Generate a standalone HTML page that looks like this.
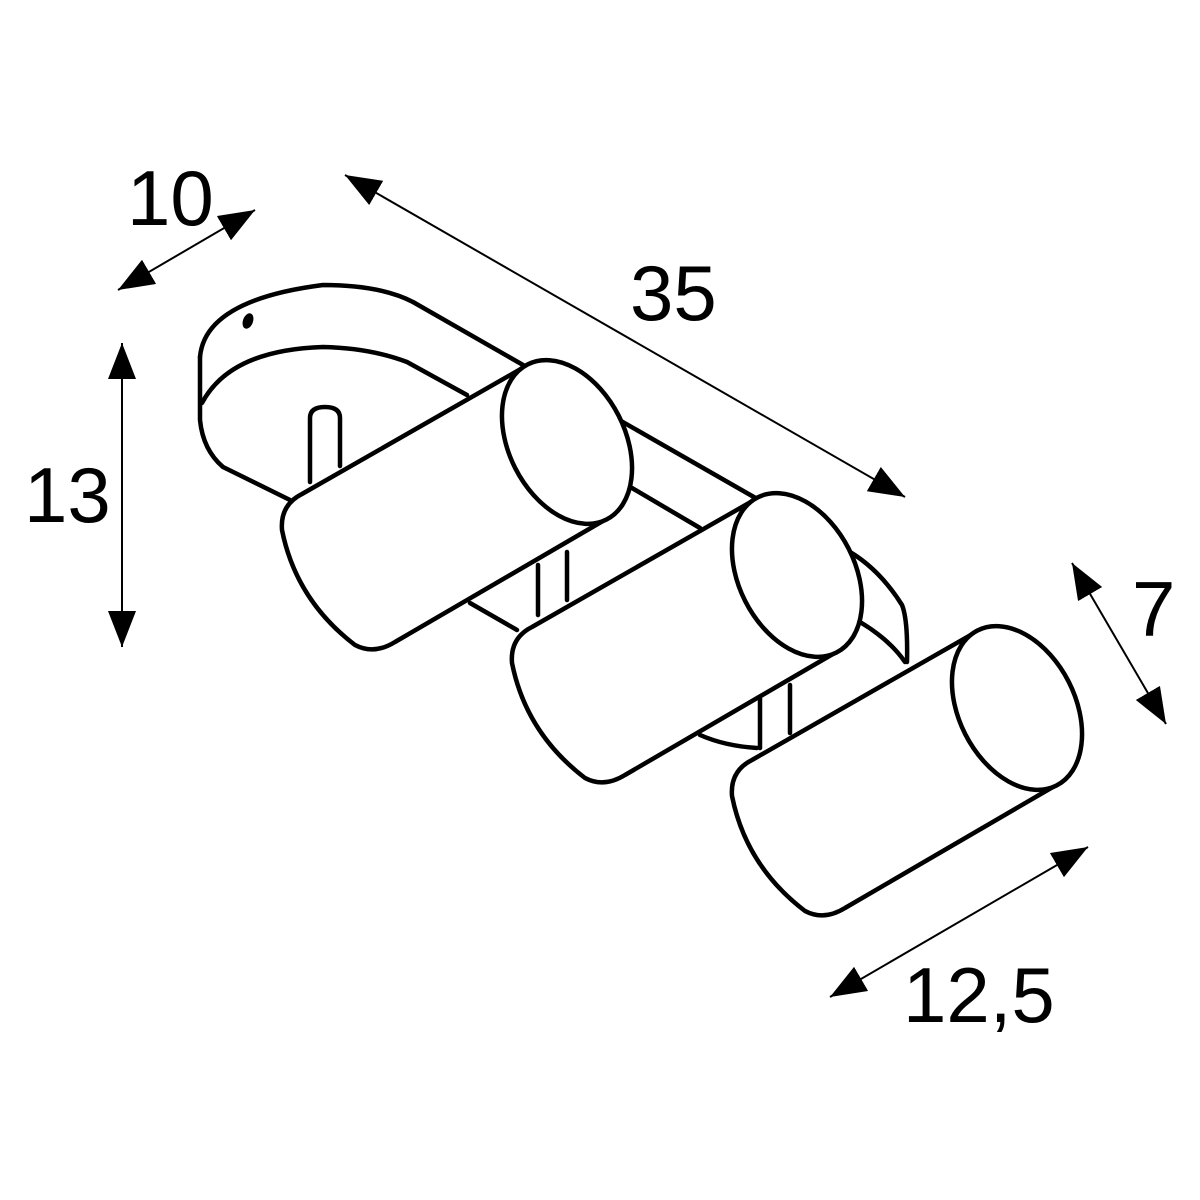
<!DOCTYPE html>
<html><head><meta charset="utf-8"><style>
html,body{margin:0;padding:0;background:#fff}
svg{display:block}
text{font-family:"Liberation Sans",sans-serif;font-size:78px;fill:#000}
</style></head><body>
<svg width="1200" height="1200" viewBox="0 0 1200 1200" xmlns="http://www.w3.org/2000/svg">
<defs>
<marker id="ah" viewBox="0 0 36 28" refX="36" refY="14" markerWidth="36" markerHeight="28" markerUnits="userSpaceOnUse" orient="auto-start-reverse">
<path d="M0,0 L36,14 L0,28 Z" fill="#000"/>
</marker>
<g id="cyl">
<path d="M302,494 L526,366 L567,442 L608,518 L395,642 Q374,655 355,645 Q296,600 282,530 Q280,505 302,494 Z" fill="#fff" stroke="#000" stroke-width="4.5" stroke-linejoin="round"/>
<ellipse cx="567" cy="442" rx="58" ry="87" transform="rotate(-27 567 442)" fill="#fff" stroke="#000" stroke-width="4.5"/>
</g>
</defs>
<g fill="none" stroke="#000" stroke-width="4.5" stroke-linecap="round" stroke-linejoin="round">
<path d="M200,357 Q205,300 323,285 Q380,285 413,302 L850,552 Q880,570 902,605 Q908,620 907,662" fill="#fff"/>
<path d="M200,357 L200,420 Q203,450 223,467 L290,500"/>
<path d="M202,403 Q230,350 323,347 Q370,348 407,362 L467,395"/>
<path d="M632,488 L700,528"/>
<path d="M470,603 L517,630"/>
<path d="M860,622 Q890,640 905,662"/>
<path d="M700,735 Q725,746 757,748"/>
<path d="M310,482 L310,418 Q310,407 325,407 Q340,407 340,418 L340,466" fill="#fff"/>
<path d="M538,565 L538,615 M567,552 L567,600"/>
<path d="M760,697 L760,748 M790,685 L790,733"/>
</g>
<ellipse cx="248" cy="321" rx="5" ry="8" transform="rotate(20 248 321)" fill="#000"/>
<use href="#cyl"/>
<use href="#cyl" transform="translate(230,133)"/>
<use href="#cyl" transform="translate(450,266)"/>
<g stroke="#000" stroke-width="2" fill="none">
<line x1="118" y1="290" x2="255" y2="210" marker-start="url(#ah)" marker-end="url(#ah)"/>
<line x1="345" y1="175" x2="905" y2="497" marker-start="url(#ah)" marker-end="url(#ah)"/>
<line x1="122" y1="343" x2="122" y2="647" marker-start="url(#ah)" marker-end="url(#ah)"/>
<line x1="1072" y1="563" x2="1166" y2="724" marker-start="url(#ah)" marker-end="url(#ah)"/>
<line x1="830" y1="997" x2="1088" y2="847" marker-start="url(#ah)" marker-end="url(#ah)"/>
</g>
<text x="127" y="225">10</text>
<text x="630" y="320">35</text>
<text x="24" y="522">13</text>
<text x="1132" y="636">7</text>
<text x="903" y="1022">12,5</text>
</svg>
</body></html>
